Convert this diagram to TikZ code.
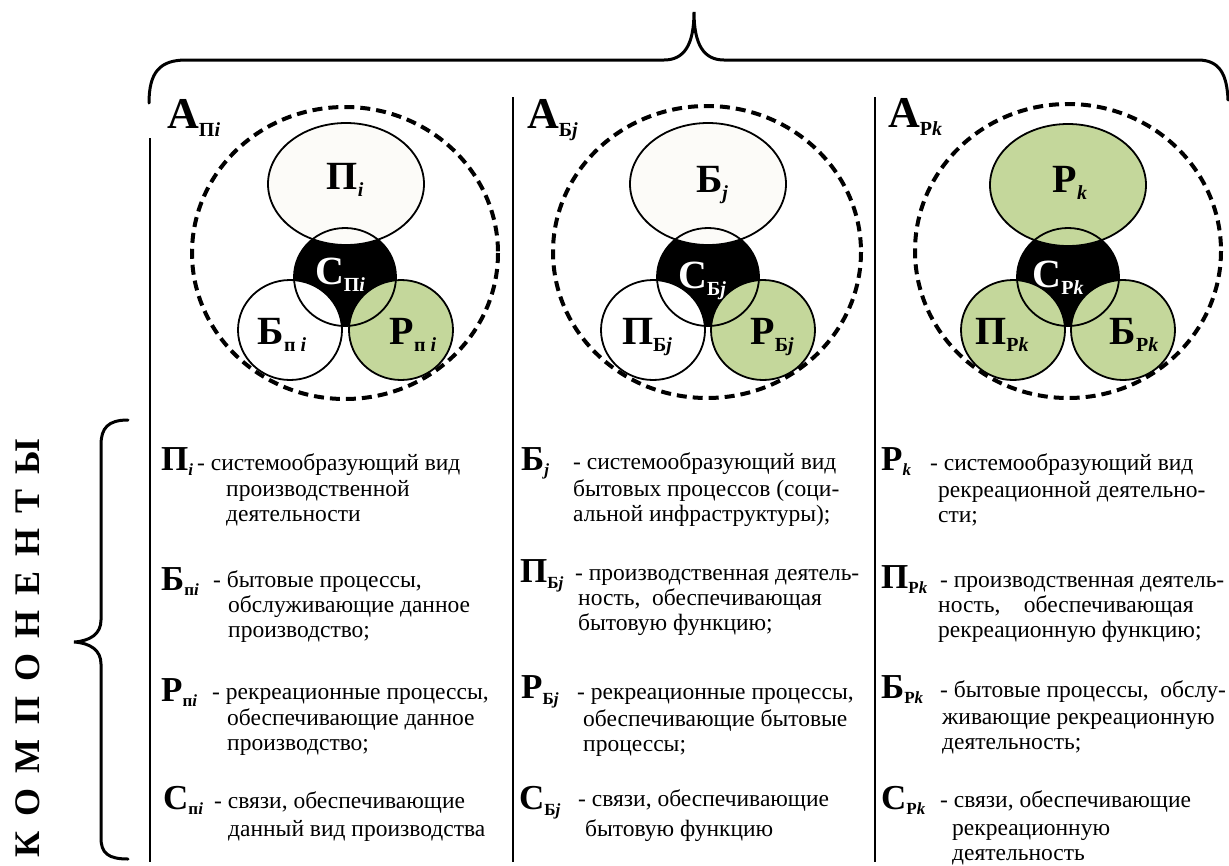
\documentclass[tikz,border=0pt]{standalone}
\usepackage{fontspec}
\setmainfont{Liberation Serif}
\definecolor{sage}{HTML}{C4D79B}
\definecolor{paper}{HTML}{FCFBF8}

% big bold letter with a lowered small subscript
\newcommand\clbl[2]{{\fontsize{40}{40}\selectfont\bfseries #1}\raisebox{-7pt}{\fontsize{20}{20}\selectfont\bfseries #2}}
\newcommand\albl[2]{{\fontsize{44}{44}\selectfont\bfseries #1}\raisebox{-8pt}{\fontsize{20}{20}\selectfont\bfseries #2}}
\newcommand\tsym[3][-5pt]{{\fontsize{35}{35}\selectfont\bfseries #2}\raisebox{#1}{\fontsize{17}{17}\selectfont\bfseries #3}}
\newcommand\lsp{\hspace{15pt}}

\tikzset{
  ring/.style={line width=4pt, dash pattern=on 10pt off 6pt},
  disc/.style={line width=1.8pt},
  rule/.style={line width=2.2pt},
  brace/.style={line width=3pt, line cap=round},
  lbl/.style={inner sep=0pt, anchor=base},
  sym/.style={inner sep=0pt, anchor=base west},
  % multi-line blocks are placed by the baseline of their last line
  body/.style={inner sep=0pt, anchor=base west, align=left, font=\fontsize{23.5}{25}\selectfont},
}

\begin{document}
\begin{tikzpicture}[x=1pt, y=-1pt]
\useasboundingbox (0,0) rectangle (1229,865);

% ---------- top brace ----------
\draw[brace] (149,103) .. controls (149,72) and (160,60) .. (186,60) -- (664,60)
  .. controls (684,60) and (694,45) .. (694,12)
  .. controls (694,45) and (704,60) .. (724,60) -- (1198,60)
  .. controls (1220,60) and (1227,75) .. (1228,100);

% ---------- left brace and vertical caption ----------
\draw[brace] (128,420) .. controls (108,420) and (101,428) .. (101,445) -- (101,620)
  .. controls (101,634) and (90,641) .. (74,642)
  .. controls (90,643) and (101,650) .. (101,664) -- (101,838)
  .. controls (101,853) and (108,859) .. (128,859);
\node[rotate=90, inner sep=0pt, font=\fontsize{36}{36}\selectfont\bfseries] (caption) at (28,648)
  {К\lsp О\lsp М\lsp П\lsp О\lsp Н\lsp Е\lsp Н\lsp Т\lsp Ы};

% ---------- column rules ----------
\coordinate (v1a) at (150,138); \coordinate (v1b) at (150,862);
\coordinate (v2a) at (513,97);  \coordinate (v2b) at (513,862);
\coordinate (v3a) at (875,97);  \coordinate (v3b) at (875,862);
\draw[rule] (v1a) -- (v1b);
\draw[rule] (v2a) -- (v2b);
\draw[rule] (v3a) -- (v3b);

% ---------- column 1: production ----------
\coordinate (o1) at (345,253);
\coordinate (t1) at (346,184);
\coordinate (c1) at (345,277);
\coordinate (l1) at (290,330);
\coordinate (r1) at (401,330);
\fill (c1) ellipse [x radius=51, y radius=49];
\draw[disc, fill=paper] (t1) ellipse [x radius=78, y radius=61];
\draw[disc, fill=white] (l1) ellipse [x radius=52, y radius=50];
\draw[disc, fill=sage] (r1) ellipse [x radius=52, y radius=50];
\draw[disc] (c1) ellipse [x radius=51, y radius=49];
\draw[ring] (o1) ellipse [x radius=153, y radius=146];
\node[sym] (a1) at (167,128) {\albl{А}{П\itshape i}};
\node[lbl] (tl1) at (345,189) {\clbl{П}{\itshape i}};
\node[lbl, text=white] (cl1) at (340,284) {\clbl{С}{П\itshape i}};
\node[lbl] (ll1) at (282,344) {\clbl{Б}{п \itshape i}};
\node[lbl] (rl1) at (413,344) {\clbl{Р}{п \itshape i}};

% ---------- column 2: everyday life ----------
\coordinate (o2) at (707,252);
\coordinate (t2) at (708,184);
\coordinate (c2) at (708,277);
\coordinate (l2) at (653,330);
\coordinate (r2) at (763,330);
\fill (c2) ellipse [x radius=51, y radius=49];
\draw[disc, fill=paper] (t2) ellipse [x radius=78, y radius=61];
\draw[disc, fill=white] (l2) ellipse [x radius=52, y radius=50];
\draw[disc, fill=sage] (r2) ellipse [x radius=52, y radius=50];
\draw[disc] (c2) ellipse [x radius=51, y radius=49];
\draw[ring] (o2) ellipse [x radius=154, y radius=146];
\node[sym] (a2) at (527,128) {\albl{А}{Б\itshape j}};
\node[lbl] (tl2) at (712,192) {\clbl{Б}{\itshape j}};
\node[lbl, text=white] (cl2) at (702,288) {\clbl{С}{Б\itshape j}};
\node[lbl] (ll2) at (647,344) {\clbl{П}{Б\itshape j}};
\node[lbl] (rl2) at (772,344) {\clbl{Р}{Б\itshape j}};

% ---------- column 3: recreation ----------
\coordinate (o3) at (1068,251);
\coordinate (t3) at (1068,185);
\coordinate (c3) at (1068,277);
\coordinate (l3) at (1013,330);
\coordinate (r3) at (1123,330);
\fill (c3) ellipse [x radius=51, y radius=49];
\draw[disc, fill=sage] (t3) ellipse [x radius=78, y radius=61];
\draw[disc, fill=sage] (l3) ellipse [x radius=52, y radius=50];
\draw[disc, fill=sage] (r3) ellipse [x radius=52, y radius=50];
\draw[disc] (c3) ellipse [x radius=51, y radius=49];
\draw[ring] (o3) ellipse [x radius=153, y radius=147];
\node[sym] (a3) at (888,127) {\albl{А}{Р\itshape k}};
\node[lbl] (tl3) at (1070,192) {\clbl{Р}{\itshape k}};
\node[lbl, text=white] (cl3) at (1058,287) {\clbl{С}{Р\itshape k}};
\node[lbl] (ll3) at (1002,344) {\clbl{П}{Р\itshape k}};
\node[lbl] (rl3) at (1134,344) {\clbl{Б}{Р\itshape k}};

% ---------- legend, column 1 ----------
\node[sym] (s11) at (161,470) {\tsym{П}{\itshape i}};
\node[body] (d11) at (197,470) {- системообразующий вид};
\node[body] (e11) at (226,521) {производственной\\деятельности};

\node[sym] (s12) at (161,590) {\tsym{Б}{п\itshape i}};
\node[body] (d12) at (213,587) {- бытовые процессы,};
\node[body] (e12) at (228,637) {обслуживающие данное\\производство;};

\node[sym] (s13) at (161,701) {\tsym{Р}{п\itshape i}};
\node[body] (d13) at (212,699) {- рекреационные процессы,};
\node[body] (e13) at (227,750) {обеспечивающие данное\\производство;};

\node[sym] (s14) at (163,809) {\tsym{С}{п\itshape i}};
\node[body] (d14) at (214,808) {- связи, обеспечивающие};
\node[body] (e14) at (228,836) {данный вид производства};

% ---------- legend, column 2 ----------
\node[sym] (s21) at (521,470) {\tsym{Б}{\itshape j}};
\node[body] (d21) at (573,469) {- системообразующий вид};
\node[body] (e21) at (573,521) {бытовых процессов (соци-\\альной инфраструктуры);};

\node[sym] (s22) at (520,582) {\tsym[-6pt]{П}{Б\itshape j}};
\node[body] (d22) at (575,580) {- производственная деятель-};
\node[body] (e22) at (578,630) {ность,\ \ обеспечивающая\\бытовую функцию;};

\node[sym] (s23) at (521,698) {\tsym[-6pt]{Р}{Б\itshape j}};
\node[body] (d23) at (577,699) {- рекреационные процессы,};
\node[body] (e23) at (583,751) {обеспечивающие бытовые\\процессы;};

\node[sym] (s24) at (519,809) {\tsym[-6pt]{С}{Б\itshape j}};
\node[body] (d24) at (578,806) {- связи, обеспечивающие};
\node[body] (e24) at (585,836) {бытовую функцию};

% ---------- legend, column 3 ----------
\node[sym] (s31) at (881,470) {\tsym{Р}{\itshape k}};
\node[body] (d31) at (930,470) {- системообразующий вид};
\node[body] (e31) at (938,522) {рекреационной деятельно-\\сти;};

\node[sym] (s32) at (881,588) {\tsym{П}{Р\itshape k}};
\node[body] (d32) at (940,587) {- производственная деятель-};
\node[body] (e32) at (938,637) {ность,\quad обеспечивающая\\рекреационную функцию;};

\node[sym] (s33) at (881,698) {\tsym{Б}{Р\itshape k}};
\node[body] (d33) at (940,697) {- бытовые процессы,\ \ обслу-};
\node[body] (e33) at (942,749) {живающие рекреационную\\деятельность;};

\node[sym] (s34) at (881,809) {\tsym{С}{Р\itshape k}};
\node[body] (d34) at (940,807) {- связи, обеспечивающие};
\node[body] (e34) at (952,860) {рекреационную\\деятельность};
\end{tikzpicture}
\end{document}
